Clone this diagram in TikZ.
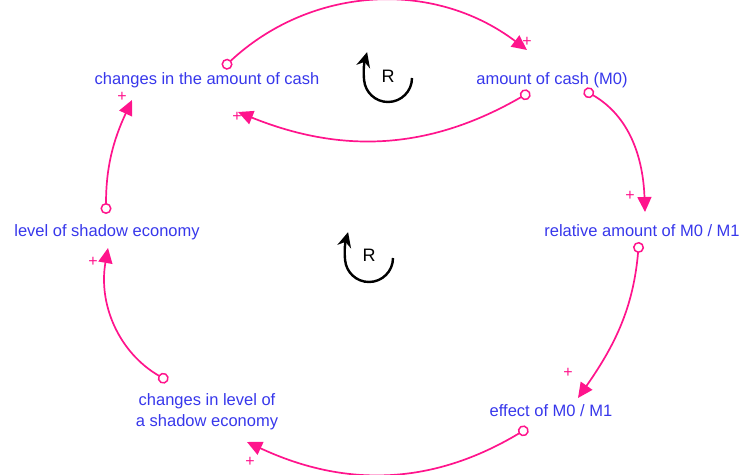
\documentclass[tikz,border=0pt]{standalone}
\usepackage{fontspec}
\setmainfont{Liberation Sans}
\usetikzlibrary{arrows.meta}
\definecolor{linkpink}{RGB}{255,20,140}
\definecolor{varblue}{RGB}{55,55,235}

\begin{document}
\begin{tikzpicture}[x=1pt, y=1pt,
  var/.style={text=varblue, align=center, inner sep=1pt, font=\fontsize{16.5}{21}\selectfont},
  link/.style={draw=linkpink, line width=1.7pt, {Circle[open, length=11pt, line width=1.5pt]}-{Triangle[length=15pt, width=14pt]}},
  pol/.style={text=linkpink, inner sep=0pt, font=\fontsize{16}{16}\selectfont},
  loopsym/.style={draw=black, line width=2.4pt, -{Stealth[length=15pt, width=14pt]}},
  looplabel/.style={inner sep=0pt, font=\fontsize{18}{18}\selectfont}
]
\useasboundingbox (0,0) rectangle (739,474);
% variables
\node[var] (cashchg) at (207, 394) {changes in the amount of cash};
\node[var] (cash) at (552, 394) {amount of cash (M0)};
\node[var] (relative) at (642, 243) {relative amount of M0 / M1};
\node[var] (effect) at (551, 63) {effect of M0 / M1};
\node[var] (levelchg) at (207, 62) {changes in level of\\a shadow economy};
\node[var] (level) at (107, 242) {level of shadow economy};
% loop markers
\node[looplabel] (r1) at (388, 398) {R};
\node[looplabel] (r2) at (369, 219) {R};
\draw[loopsym] ([shift={(24,-2)}]r1.center) arc[start angle=0, end angle=-175, radius=24] to[out=95, in=-105] ++(3,28);
\draw[loopsym] ([shift={(24,-3)}]r2.center) arc[start angle=0, end angle=-175, radius=24] to[out=95, in=-105] ++(3,28);
% links
\draw[link] ([shift={(16,12)}]cashchg.center) to[out=43, in=143] ([shift={(-25,30)}]cash.center);
\draw[link] ([shift={(-22,-12)}]cash.center) to[out=-150, in=-22] ([shift={(31,-32)}]cashchg.center);
\draw[link] ([shift={(32,-10)}]cash.center) to[out=-30, in=92] ([shift={(3,19)}]relative.center);
\draw[link] ([shift={(-3,-11)}]relative.center) to[out=-95, in=55] ([shift={(27,13)}]effect.center);
\draw[link] ([shift={(-23,-17)}]effect.center) to[out=-149, in=-25] ([shift={(40,-30)}]levelchg.center);
\draw[link] ([shift={(-39,31)}]levelchg.center) to[out=150, in=-100] ([shift={(1,-16)}]level.center);
\draw[link] ([shift={(-1,18)}]level.center) to[out=90, in=-115] ([shift={(-75,-20)}]cashchg.center);
% polarities
\node[pol] (p1) at (527, 432) {+};
\node[pol] (p2) at (237, 357) {+};
\node[pol] (p3) at (630, 278) {+};
\node[pol] (p4) at (568, 101) {+};
\node[pol] (p5) at (250, 12) {+};
\node[pol] (p6) at (93, 212) {+};
\node[pol] (p7) at (122, 377) {+};
\end{tikzpicture}
\end{document}
